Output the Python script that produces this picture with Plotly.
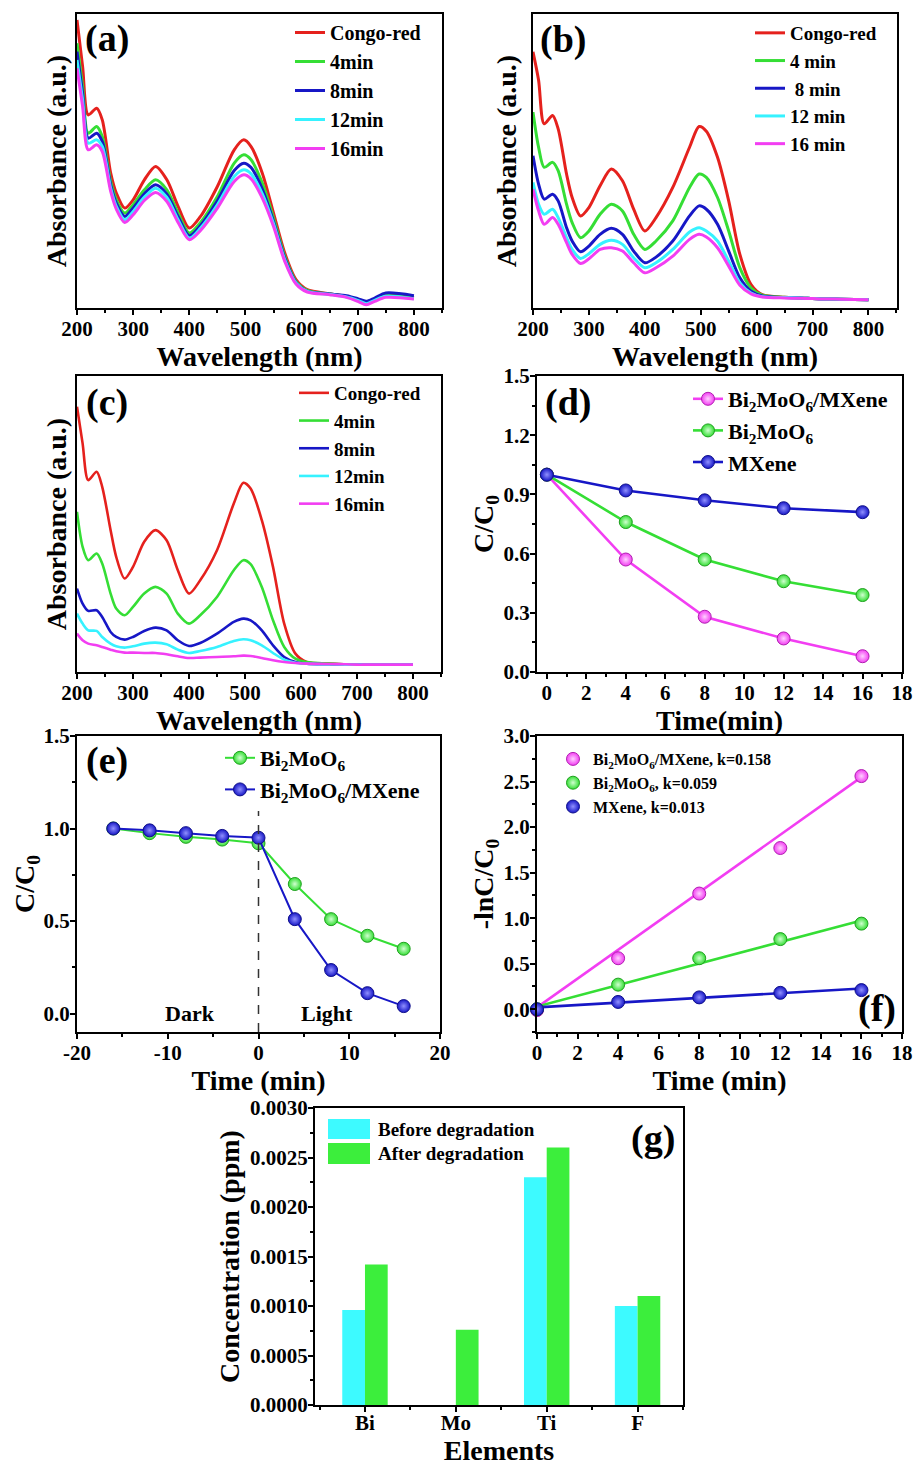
import plotly.graph_objects as go

W, H = 915, 1466
FONT = "Liberation Serif"

# ---------------- data ----------------
wavelength = [200, 210, 220, 235, 245, 260, 270, 285, 300, 320, 340, 360, 380, 400, 420, 450,
              480, 497, 510, 530, 550, 570, 590, 610, 650, 680, 700, 715, 730, 750, 800]

labels_a = ["Congo-red", "4min", "8min", "12min", "16min"]
labels_b = ["Congo-red", "4 min", " 8 min", "12 min", "16 min"]
labels_c = ["Congo-red", "4min", "8min", "12min", "16min"]

abs_a_red = [0.865, 0.725, 0.580, 0.600, 0.565, 0.405, 0.345, 0.300, 0.325, 0.385, 0.425, 0.385, 0.305, 0.240, 0.275, 0.365,
             0.475, 0.505, 0.485, 0.405, 0.285, 0.165, 0.085, 0.055, 0.043, 0.035, 0.025, 0.015, 0.025, 0.040, 0.030]
abs_a_4 = [0.795, 0.665, 0.525, 0.545, 0.515, 0.380, 0.325, 0.285, 0.310, 0.355, 0.385, 0.355, 0.285, 0.225, 0.257, 0.335,
           0.435, 0.460, 0.445, 0.375, 0.270, 0.155, 0.080, 0.053, 0.042, 0.035, 0.025, 0.015, 0.025, 0.037, 0.030]
abs_a_8 = [0.770, 0.645, 0.510, 0.525, 0.500, 0.370, 0.315, 0.275, 0.300, 0.343, 0.370, 0.342, 0.275, 0.217, 0.248, 0.322,
           0.413, 0.435, 0.422, 0.357, 0.260, 0.150, 0.077, 0.051, 0.042, 0.037, 0.028, 0.020, 0.030, 0.045, 0.037]
abs_a_12 = [0.745, 0.625, 0.495, 0.505, 0.485, 0.360, 0.305, 0.265, 0.290, 0.333, 0.360, 0.332, 0.265, 0.210, 0.240, 0.310,
            0.395, 0.415, 0.403, 0.343, 0.253, 0.145, 0.075, 0.050, 0.041, 0.033, 0.023, 0.013, 0.023, 0.035, 0.028]
abs_a_16 = [0.720, 0.605, 0.475, 0.490, 0.470, 0.350, 0.297, 0.257, 0.280, 0.323, 0.347, 0.320, 0.257, 0.205, 0.233, 0.300,
            0.380, 0.400, 0.388, 0.330, 0.245, 0.140, 0.072, 0.048, 0.040, 0.032, 0.020, 0.010, 0.020, 0.032, 0.027]

abs_b_red = [0.765, 0.680, 0.550, 0.575, 0.535, 0.400, 0.330, 0.275, 0.300, 0.365, 0.415, 0.380, 0.295, 0.230, 0.270, 0.360,
             0.480, 0.542, 0.528, 0.450, 0.320, 0.160, 0.070, 0.040, 0.032, 0.030, 0.028, 0.027, 0.027, 0.026, 0.025]
abs_b_4 = [0.585, 0.480, 0.420, 0.435, 0.410, 0.310, 0.255, 0.210, 0.230, 0.280, 0.310, 0.290, 0.220, 0.175, 0.200, 0.260,
           0.360, 0.400, 0.390, 0.330, 0.230, 0.120, 0.060, 0.038, 0.032, 0.030, 0.028, 0.027, 0.027, 0.026, 0.025]
abs_b_8 = [0.455, 0.370, 0.325, 0.340, 0.320, 0.240, 0.200, 0.168, 0.185, 0.220, 0.238, 0.220, 0.170, 0.135, 0.152, 0.200,
           0.275, 0.305, 0.295, 0.250, 0.170, 0.090, 0.050, 0.036, 0.031, 0.030, 0.028, 0.027, 0.027, 0.026, 0.025]
abs_b_12 = [0.375, 0.310, 0.280, 0.295, 0.270, 0.210, 0.175, 0.148, 0.162, 0.190, 0.202, 0.190, 0.150, 0.120, 0.135, 0.175,
            0.227, 0.240, 0.230, 0.200, 0.140, 0.075, 0.045, 0.034, 0.031, 0.030, 0.028, 0.027, 0.027, 0.026, 0.025]
abs_b_16 = [0.355, 0.290, 0.250, 0.270, 0.250, 0.195, 0.160, 0.133, 0.147, 0.175, 0.180, 0.170, 0.135, 0.105, 0.120, 0.155,
            0.205, 0.220, 0.212, 0.180, 0.125, 0.068, 0.042, 0.033, 0.030, 0.029, 0.028, 0.027, 0.027, 0.026, 0.025]

abs_c_red = [0.795, 0.685, 0.575, 0.600, 0.555, 0.425, 0.345, 0.280, 0.315, 0.390, 0.425, 0.395, 0.305, 0.235, 0.275, 0.365,
             0.505, 0.567, 0.550, 0.455, 0.315, 0.145, 0.055, 0.030, 0.025, 0.023, 0.022, 0.022, 0.023, 0.023, 0.022]
abs_c_4 = [0.480, 0.375, 0.335, 0.355, 0.325, 0.235, 0.190, 0.170, 0.195, 0.235, 0.255, 0.235, 0.175, 0.145, 0.170, 0.225,
           0.305, 0.335, 0.323, 0.255, 0.155, 0.075, 0.040, 0.030, 0.025, 0.023, 0.022, 0.022, 0.023, 0.023, 0.022]
abs_c_8 = [0.250, 0.205, 0.183, 0.185, 0.165, 0.120, 0.105, 0.097, 0.105, 0.123, 0.133, 0.125, 0.095, 0.078, 0.087, 0.115,
           0.150, 0.160, 0.155, 0.125, 0.080, 0.045, 0.030, 0.025, 0.023, 0.022, 0.022, 0.022, 0.022, 0.022, 0.022]
abs_c_12 = [0.175, 0.145, 0.125, 0.123, 0.105, 0.085, 0.077, 0.073, 0.077, 0.085, 0.088, 0.083, 0.067, 0.057, 0.063, 0.075,
            0.093, 0.098, 0.095, 0.080, 0.057, 0.037, 0.028, 0.025, 0.023, 0.022, 0.022, 0.022, 0.022, 0.022, 0.022]
abs_c_16 = [0.115, 0.095, 0.085, 0.080, 0.075, 0.067, 0.062, 0.058, 0.058, 0.057, 0.057, 0.053, 0.047, 0.042, 0.043, 0.045,
            0.047, 0.049, 0.048, 0.042, 0.035, 0.030, 0.027, 0.025, 0.024, 0.023, 0.022, 0.022, 0.022, 0.022, 0.022]

time_d = [0, 4, 8, 12, 16]
cc0_composite = [1.0, 0.57, 0.28, 0.17, 0.08]
cc0_bmo = [1.0, 0.76, 0.57, 0.46, 0.39]
cc0_mxene = [1.0, 0.92, 0.87, 0.83, 0.81]

time_e = [-16, -12, -8, -4, 0, 4, 8, 12, 16]
cc0_e_bmo = [1.0, 0.975, 0.955, 0.94, 0.92, 0.70, 0.51, 0.42, 0.35]
cc0_e_composite = [1.0, 0.99, 0.975, 0.96, 0.95, 0.51, 0.235, 0.11, 0.04]
ticks_e = [-20, -10, 0, 10, 20]
ticklabels_e = ["-20", "-10", "0", "10", "20"]

time_f = [0, 4, 8, 12, 16]
lnc_composite = [-0.01, 0.56, 1.27, 1.77, 2.56]
lnc_bmo = [0.0, 0.27, 0.56, 0.77, 0.94]
lnc_mxene = [0.0, 0.08, 0.13, 0.18, 0.21]
fit_k = [0.158, 0.059, 0.013]
fit_b = [0.02, 0.03, 0.02]
fit_x = [0, 16]

elements = ["Bi", "Mo", "Ti", "F"]
conc_before = [0.00096, 0.0, 0.0023, 0.0010]
conc_after = [0.00142, 0.00076, 0.0026, 0.0011]

# ---------------- style ----------------
RED = "#E5211D"
GREEN = "#35DE35"
BLUE = "#1717C6"
CYAN = "#36F2FF"
MAG = "#F23EF2"
BAR_CYAN = "#3DFAFF"
BAR_GREEN = "#3CEE3C"
spec_colors = [RED, GREEN, BLUE, CYAN, MAG]

BI2 = "Bi<sub>2</sub>MoO<sub>6</sub>"


def px_x(p):
    return p / W


def px_y(p):
    return 1 - p / H


fig = go.Figure()


def add_spectra(xa, ya, leg, labels, series, width):
    for lab, ser, col in zip(labels, series, spec_colors):
        fig.add_trace(go.Scatter(x=wavelength, y=ser, mode="lines", name=lab,
                                 line=dict(color=col, width=width, shape="spline", smoothing=0.8),
                                 xaxis=xa, yaxis=ya, legend=leg))


add_spectra("x", "y", "legend", labels_a, [abs_a_red, abs_a_4, abs_a_8, abs_a_12, abs_a_16], 3)
add_spectra("x2", "y2", "legend2", labels_b, [abs_b_red, abs_b_4, abs_b_8, abs_b_12, abs_b_16], 3)
add_spectra("x3", "y3", "legend3", labels_c, [abs_c_red, abs_c_4, abs_c_8, abs_c_12, abs_c_16], 2.6)


def ball(col, light, edge):
    return dict(color=col, size=13, line=dict(color=edge, width=1),
                gradient=dict(type="radial", color=light))


# (d)
for name, ys, col, light, edge in [
    (BI2 + "/MXene", cc0_composite, MAG, "#FFD0FF", "#B020B0"),
    (BI2, cc0_bmo, GREEN, "#D0FFD0", "#20A020"),
    ("MXene", cc0_mxene, BLUE, "#9090FF", "#10108A"),
]:
    fig.add_trace(go.Scatter(x=time_d, y=ys, mode="lines+markers", name=name,
                             line=dict(color=col, width=2.6), marker=ball(col, light, edge),
                             cliponaxis=False, xaxis="x4", yaxis="y4", legend="legend4"))

# (e)
for name, ys, col, light, edge in [
    (BI2, cc0_e_bmo, GREEN, "#D0FFD0", "#20A020"),
    (BI2 + "/MXene", cc0_e_composite, BLUE, "#9090FF", "#10108A"),
]:
    fig.add_trace(go.Scatter(x=time_e, y=ys, mode="lines+markers", name=name,
                             line=dict(color=col, width=2), marker=ball(col, light, edge),
                             cliponaxis=False, xaxis="x5", yaxis="y5", legend="legend5"))

# (f)
f_sets = [
    (BI2 + "/MXene, k=0.158", lnc_composite, MAG, "#FFD0FF", "#B020B0"),
    (BI2 + ", k=0.059", lnc_bmo, GREEN, "#D0FFD0", "#20A020"),
    ("MXene, k=0.013", lnc_mxene, BLUE, "#9090FF", "#10108A"),
]
for (name, ys, col, light, edge), k, b in zip(f_sets, fit_k, fit_b):
    fig.add_trace(go.Scatter(x=fit_x, y=[b + k * t for t in fit_x], mode="lines",
                             line=dict(color=col, width=2.6), showlegend=False,
                             xaxis="x6", yaxis="y6"))
for name, ys, col, light, edge in f_sets:
    fig.add_trace(go.Scatter(x=time_f, y=ys, mode="markers", name=name,
                             marker=ball(col, light, edge), cliponaxis=False,
                             xaxis="x6", yaxis="y6", legend="legend6"))

# (g)
idx = list(range(len(elements)))
fig.add_trace(go.Bar(x=idx, y=conc_before, name="Before degradation",
                     marker=dict(color=BAR_CYAN, line=dict(width=0)),
                     showlegend=False, xaxis="x7", yaxis="y7"))
fig.add_trace(go.Bar(x=idx, y=conc_after, name="After degradation",
                     marker=dict(color=BAR_GREEN, line=dict(width=0)),
                     showlegend=False, xaxis="x7", yaxis="y7"))

# ---------------- axes ----------------
TICKFONT = dict(family=FONT, size=21, color="black", weight="bold")
TITLEFONT = dict(family=FONT, size=28, color="black", weight="bold")


def axis(domain, rng, anchor, title, dtick=None, minor_dtick=None, showlabels=True, ticks="outside",
         standoff=0, tickformat=None, **kw):
    d = dict(domain=domain, range=rng, anchor=anchor, showline=True, linecolor="black", linewidth=2,
             mirror=True, ticks=ticks, ticklen=5, tickwidth=2, tickcolor="black", showgrid=False,
             zeroline=False, showticklabels=showlabels, tickfont=TICKFONT, automargin=False,
             ticklabelstandoff=-4,
             title=dict(text=title, font=TITLEFONT, standoff=standoff))
    if dtick is not None:
        d["dtick"] = dtick
        d["tick0"] = 0
    if minor_dtick is not None:
        d["minor"] = dict(ticks="outside", ticklen=3, tickwidth=1.5, tickcolor="black",
                          dtick=minor_dtick, tick0=0, showgrid=False)
    if tickformat:
        d["tickformat"] = tickformat
    d.update(kw)
    return d


LEFT = [px_x(77), px_x(442)]
RIGHT = [px_x(537), px_x(902)]
ROW1 = [px_y(308), px_y(14)]
ROW2 = [px_y(672), px_y(376)]
ROW3 = [px_y(1032), px_y(736)]

layout = dict(
    width=W, height=H, margin=dict(l=0, r=0, t=0, b=0),
    paper_bgcolor="white", plot_bgcolor="white",
    font=dict(family=FONT, color="black", weight="bold"),
    barmode="group", bargap=0.5, bargroupgap=0,
    xaxis=axis(LEFT, [200, 850], "y", "Wavelength (nm)", 100, 50),
    yaxis=axis(ROW1, [0, 0.883], "x", "Absorbance (a.u.)", showlabels=False, ticks="", standoff=0),
    xaxis2=axis([px_x(533), px_x(897)], [200, 851], "y2", "Wavelength (nm)", 100, 50),
    yaxis2=axis(ROW1, [0, 0.878], "x2", "Absorbance (a.u.)", showlabels=False, ticks="", standoff=6),
    xaxis3=axis([px_x(77), px_x(441)], [200, 850], "y3", "Wavelength (nm)", 100, 50),
    yaxis3=axis(ROW2, [0, 0.887], "x3", "Absorbance (a.u.)", showlabels=False, ticks="", standoff=0),
    xaxis4=axis(RIGHT, [-0.5, 18], "y4", "Time(min)", 2, 1),
    yaxis4=axis(ROW2, [0, 1.5], "x4", "C/C<sub>0</sub>", 0.3, 0.15, standoff=2, tickformat=".1f"),
    xaxis5=axis([px_x(77), px_x(440)], [-20, 20], "y5", "Time (min)", minor_dtick=5,
                tickmode="array", tickvals=ticks_e, ticktext=ticklabels_e),
    yaxis5=axis(ROW3, [-0.1, 1.5], "x5", "C/C<sub>0</sub>", 0.5, 0.25, standoff=0, tickformat=".1f"),
    xaxis6=axis(RIGHT, [0, 18], "y6", "Time (min)", 2, 1),
    yaxis6=axis(ROW3, [-0.25, 3.0], "x6", "-lnC/C<sub>0</sub>", 0.5, 0.25, standoff=2, tickformat=".1f"),
    xaxis7=axis([px_x(315), px_x(683)], [-0.55, 3.5], "y7", "Elements", standoff=6,
                tickmode="array", tickvals=idx, ticktext=elements, ticklabelstandoff=-7,
                minor=dict(ticks="outside", ticklen=3, tickwidth=1.5, tickcolor="black", tick0=0.5, dtick=1)),
    yaxis7=axis([px_y(1405), px_y(1108)], [0, 0.003], "x7", "Concentration (ppm)", 0.0005, 0.00025,
                standoff=2, tickformat=".4f"),
)


def legend(x, y, size=20, gap=0):
    return dict(x=px_x(x), y=px_y(y), xanchor="left", yanchor="top", bgcolor="rgba(0,0,0,0)",
                font=dict(family=FONT, size=size, color="black", weight="bold"),
                tracegroupgap=gap, itemwidth=30, borderwidth=0)


layout["legend"] = legend(290, 13)
layout["legend2"] = legend(750, 14, size=19)
layout["legend3"] = legend(294, 374, size=19)
layout["legend4"] = legend(688, 378, size=22)
layout["legend5"] = legend(220, 737, size=22)
layout["legend6"] = legend(553, 742, size=16)

fig.update_layout(**layout)

# panel letters
letters = [("(a)", 107, 38), ("(b)", 563, 40), ("(c)", 107, 402), ("(d)", 568, 403),
           ("(e)", 107, 760), ("(f)", 877, 1008), ("(g)", 653, 1138)]
for t, x, y in letters:
    fig.add_annotation(text=t, x=px_x(x), y=px_y(y), xref="paper", yref="paper", showarrow=False,
                       xanchor="center", yanchor="middle",
                       font=dict(family=FONT, size=38, color="black", weight="bold"))

# (e) dark / light
fig.add_annotation(text="Dark", x=-7.5, y=0.0, xref="x5", yref="y5", showarrow=False,
                   font=dict(family=FONT, size=22, color="black", weight="bold"))
fig.add_annotation(text="Light", x=7.5, y=0.0, xref="x5", yref="y5", showarrow=False,
                   font=dict(family=FONT, size=22, color="black", weight="bold"))
fig.add_shape(type="line", x0=0, x1=0, y0=-0.1, y1=1.095, xref="x5", yref="y5",
              line=dict(color="#333333", width=1.5, dash="dash"))

# (g) legend swatches
for col, txt, y0, y1 in [(BAR_CYAN, "Before degradation", 1119, 1139), (BAR_GREEN, "After degradation", 1143, 1164)]:
    fig.add_shape(type="rect", x0=px_x(328), x1=px_x(370), y0=px_y(y1), y1=px_y(y0), xref="paper", yref="paper",
                  fillcolor=col, line=dict(width=0))
    fig.add_annotation(text=txt, x=px_x(376), y=px_y((y0 + y1) / 2), xref="paper", yref="paper", showarrow=False,
                       xanchor="left", yanchor="middle",
                       font=dict(family=FONT, size=19, color="black", weight="bold"))

fig.write_html("out.html", config={"displayModeBar": False},
               post_script="document.body.style.margin='0px';")
